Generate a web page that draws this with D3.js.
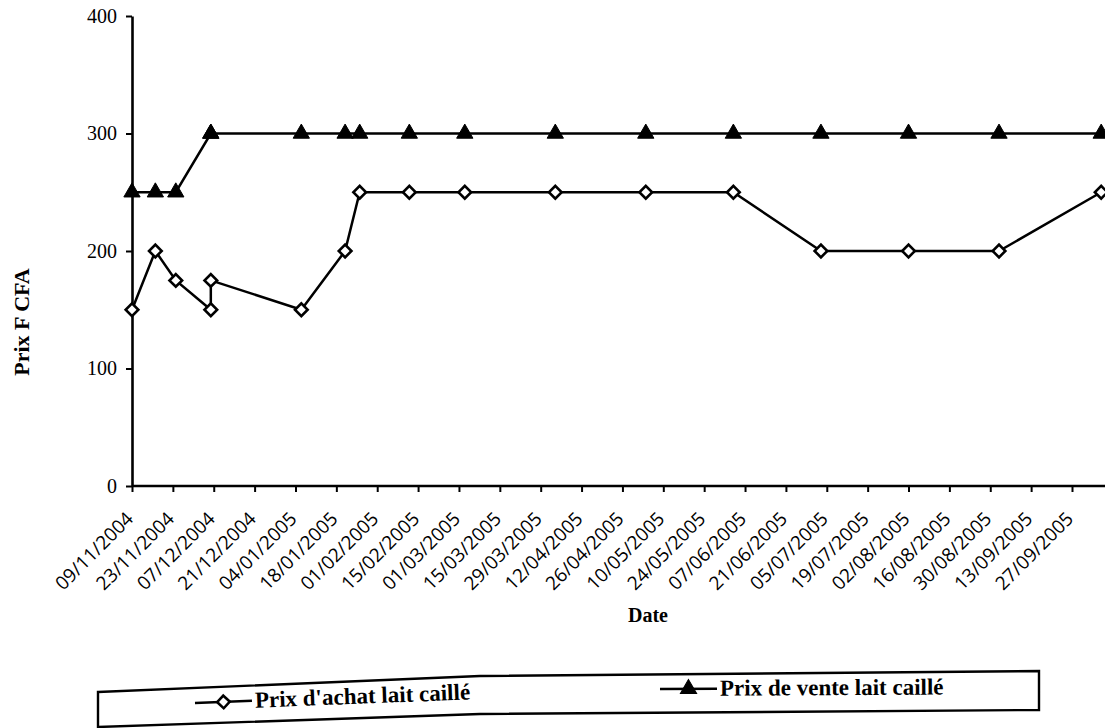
<!DOCTYPE html>
<html>
<head>
<meta charset="utf-8">
<script src="https://cdn.jsdelivr.net/npm/d3@7"></script>
<style>
  body { margin: 0; background: #fff; }
  svg { display: block; }
</style>
</head>
<body>
<svg id="chart" width="1105" height="728"></svg>
<script>
// ---------------------------------------------
// DONNEES
// ---------------------------------------------
const dates = [
  "09/11/2004", "17/11/2004", "24/11/2004", "06/12/2004", "06/12/2004",
  "06/01/2005", "21/01/2005", "26/01/2005", "12/02/2005", "03/03/2005",
  "03/04/2005", "04/05/2005", "03/06/2005", "03/07/2005", "02/08/2005",
  "02/09/2005", "07/10/2005",
];
const prixAchat = [150, 200, 175, 150, 175, 150, 200, 250, 250, 250, 250, 250, 250, 200, 200, 200, 250];
const prixVente = [250, 250, 250, 300, 300, 300, 300, 300, 300, 300, 300, 300, 300, 300, 300, 300, 300];

const tickLabels = [
  "09/11/2004", "23/11/2004", "07/12/2004", "21/12/2004", "04/01/2005",
  "18/01/2005", "01/02/2005", "15/02/2005", "01/03/2005", "15/03/2005",
  "29/03/2005", "12/04/2005", "26/04/2005", "10/05/2005", "24/05/2005",
  "07/06/2005", "21/06/2005", "05/07/2005", "19/07/2005", "02/08/2005",
  "16/08/2005", "30/08/2005", "13/09/2005", "27/09/2005",
];
const yTicks = [0, 100, 200, 300, 400];

const seriesNames = ["Prix d'achat lait caillé", "Prix de vente lait caillé"];

// ---------------------------------------------
// ECHELLES
// ---------------------------------------------
const parse = d3.timeParse("%d/%m/%Y");
const fmt = d3.timeFormat("%d/%m/%Y");

const x = d3.scaleTime()
  .domain([parse(tickLabels[0]), parse(tickLabels[tickLabels.length - 1])])
  .range([132, 1072]);
const y = d3.scaleLinear().domain([0, 400]).range([486, 16]);

const svg = d3.select("#chart");
const serif = "'Liberation Serif', 'Times New Roman', serif";
const sans = "'Open Sans', 'DejaVu Sans', sans-serif";

// ---------------------------------------------
// AXES
// ---------------------------------------------
const gx = svg.append("g").attr("transform", `translate(0,${y(0)})`);
gx.call(d3.axisBottom(x)
  .tickValues(tickLabels.map(parse))
  .tickFormat(fmt)
  .tickSizeInner(6)
  .tickSizeOuter(0));
gx.select(".domain").remove();
gx.append("line")
  .attr("x1", x.range()[0]).attr("x2", 1110)
  .attr("stroke", "#000").attr("stroke-width", 2.6);
gx.selectAll(".tick line").attr("stroke", "#000").attr("stroke-width", 2);
gx.selectAll(".tick text")
  .attr("font-family", sans)
  .attr("font-size", 19)
  .attr("fill", "#000")
  .attr("text-anchor", "end")
  .attr("dy", null)
  .attr("y", 0)
  .attr("transform", "translate(2,34) rotate(-45)");

const gy = svg.append("g").attr("transform", `translate(${x.range()[0]},0)`);
gy.call(d3.axisLeft(y).tickValues(yTicks).tickSizeInner(6).tickSizeOuter(0).tickPadding(9));
gy.select(".domain").attr("stroke", "#000").attr("stroke-width", 2.6);
gy.selectAll(".tick line").attr("stroke", "#000").attr("stroke-width", 2);
gy.selectAll(".tick text")
  .attr("font-family", serif)
  .attr("font-size", 20)
  .attr("fill", "#000");

// titres d'axes
svg.append("text")
  .attr("transform", "translate(29,322) rotate(-90)")
  .attr("text-anchor", "middle")
  .attr("font-family", serif)
  .attr("font-weight", "bold")
  .attr("font-size", 22)
  .text("Prix F CFA");

svg.append("text")
  .attr("x", 648).attr("y", 622)
  .attr("text-anchor", "middle")
  .attr("font-family", serif)
  .attr("font-weight", "bold")
  .attr("font-size", 20)
  .text("Date");

// ---------------------------------------------
// SERIES
// ---------------------------------------------
const achat = dates.map((d, i) => ({ date: parse(d), value: prixAchat[i] }));
const vente = dates.map((d, i) => ({ date: parse(d), value: prixVente[i] }));

const line = d3.line().x((d) => x(d.date)).y((d) => y(d.value));

const diamond = d3.symbol().type(d3.symbolSquare).size(80);
const triangle = d3.symbol().type(d3.symbolTriangle).size(115);

const drawSeries = (data, symbolPath, fill) => {
  svg.append("path")
    .datum(data)
    .attr("fill", "none")
    .attr("stroke", "#000")
    .attr("stroke-width", 2.5)
    .attr("d", line);

  svg.append("g")
    .selectAll("path")
    .data(data)
    .enter()
    .append("path")
    .attr("d", symbolPath)
    .attr("transform", (d) =>
      `translate(${x(d.date)},${y(d.value)})` + (fill === "#fff" ? " rotate(45)" : ""))
    .attr("fill", fill)
    .attr("stroke", "#000")
    .attr("stroke-width", fill === "#fff" ? 2.6 : 1);
};

drawSeries(vente, triangle, "#000");
drawSeries(achat, diamond, "#fff");

// ---------------------------------------------
// LEGENDE (cadre deforme comme le scan)
// ---------------------------------------------
const boxCorners = [
  [98, 692], [480, 676], [1039, 671], [1039, 710], [480, 714], [98, 727],
];
svg.append("path")
  .attr("d", d3.line()(boxCorners) + "Z")
  .attr("fill", "#fff")
  .attr("stroke", "#000")
  .attr("stroke-width", 2.4);

const legendItems = [
  { name: seriesNames[0], x0: 195, y0: 703, angle: -2.2, sym: diamond, fill: "#fff" },
  { name: seriesNames[1], x0: 660, y0: 689, angle: -0.3, sym: triangle, fill: "#000" },
];

legendItems.forEach((it) => {
  const g = svg.append("g")
    .attr("transform", `translate(${it.x0},${it.y0}) rotate(${it.angle})`);
  g.append("line")
    .attr("x1", 0).attr("x2", 57)
    .attr("stroke", "#000").attr("stroke-width", 2.4);
  g.append("path")
    .attr("d", it.sym)
    .attr("transform", "translate(28.5,0)" + (it.fill === "#fff" ? " rotate(45)" : ""))
    .attr("fill", it.fill)
    .attr("stroke", "#000")
    .attr("stroke-width", it.fill === "#fff" ? 2.6 : 1);
  g.append("text")
    .attr("x", 60).attr("y", 7)
    .attr("font-family", serif)
    .attr("font-weight", "bold")
    .attr("font-size", 23)
    .text(it.name);
});
</script>
</body>
</html>
